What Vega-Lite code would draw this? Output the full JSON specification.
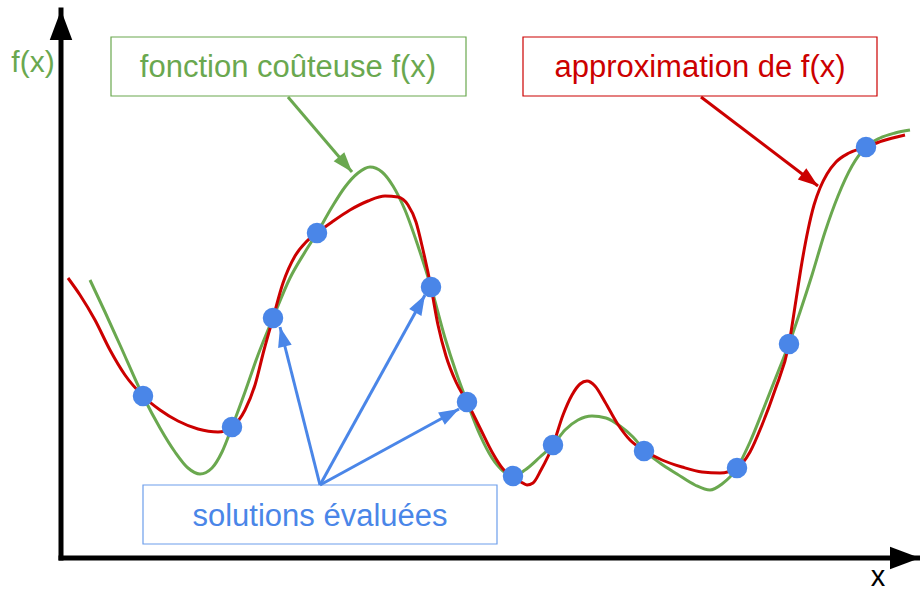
{
  "$schema": "https://vega.github.io/schema/vega-lite/v6.json",
  "width": 920,
  "height": 592,
  "padding": 0,
  "autosize": {"type": "none"},
  "background": "white",
  "config": {"view": {"stroke": null}},
  "layer": [
    {
      "data": {"values": [
        {"x": 90, "y": 280}, {"x": 105, "y": 312}, {"x": 120, "y": 345}, {"x": 143, "y": 396}, {"x": 160, "y": 428},
        {"x": 175, "y": 452}, {"x": 188, "y": 468}, {"x": 200, "y": 474}, {"x": 212, "y": 468}, {"x": 222, "y": 452},
        {"x": 232, "y": 427}, {"x": 245, "y": 392}, {"x": 258, "y": 355}, {"x": 273, "y": 318}, {"x": 290, "y": 278},
        {"x": 305, "y": 252}, {"x": 317, "y": 233}, {"x": 332, "y": 207}, {"x": 345, "y": 187}, {"x": 358, "y": 173},
        {"x": 370, "y": 167}, {"x": 382, "y": 172}, {"x": 393, "y": 186}, {"x": 405, "y": 210}, {"x": 418, "y": 246},
        {"x": 431, "y": 287}, {"x": 445, "y": 338}, {"x": 456, "y": 372}, {"x": 467, "y": 402}, {"x": 480, "y": 435},
        {"x": 492, "y": 458}, {"x": 503, "y": 471}, {"x": 513, "y": 476}, {"x": 525, "y": 470}, {"x": 540, "y": 457},
        {"x": 553, "y": 445}, {"x": 565, "y": 430}, {"x": 578, "y": 420}, {"x": 592, "y": 416}, {"x": 606, "y": 418},
        {"x": 620, "y": 426}, {"x": 633, "y": 437}, {"x": 645, "y": 451}, {"x": 660, "y": 463}, {"x": 677, "y": 474},
        {"x": 695, "y": 485}, {"x": 710, "y": 490}, {"x": 722, "y": 484}, {"x": 737, "y": 468}, {"x": 750, "y": 442},
        {"x": 765, "y": 405}, {"x": 778, "y": 372}, {"x": 789, "y": 344}, {"x": 800, "y": 312}, {"x": 812, "y": 275},
        {"x": 825, "y": 232}, {"x": 838, "y": 196}, {"x": 852, "y": 166}, {"x": 866, "y": 147}, {"x": 880, "y": 138},
        {"x": 895, "y": 133}, {"x": 910, "y": 130}
      ]},
      "mark": {"type": "line", "color": "#6aa84f", "strokeWidth": 3, "interpolate": "monotone"},
      "encoding": {
        "x": {"field": "x", "type": "quantitative", "scale": {"domain": [0, 920], "nice": false, "zero": false}, "axis": null},
        "y": {"field": "y", "type": "quantitative", "scale": {"domain": [0, 592], "nice": false, "zero": false, "reverse": true}, "axis": null}
      }
    },
    {
      "data": {"values": [
        {"x": 68, "y": 278}, {"x": 80, "y": 295}, {"x": 95, "y": 320}, {"x": 110, "y": 350}, {"x": 125, "y": 375},
        {"x": 143, "y": 396}, {"x": 160, "y": 410}, {"x": 178, "y": 421}, {"x": 198, "y": 429}, {"x": 218, "y": 432},
        {"x": 232, "y": 427}, {"x": 245, "y": 410}, {"x": 255, "y": 385}, {"x": 264, "y": 350}, {"x": 273, "y": 318},
        {"x": 283, "y": 283}, {"x": 295, "y": 256}, {"x": 306, "y": 242}, {"x": 317, "y": 233}, {"x": 332, "y": 222},
        {"x": 350, "y": 210}, {"x": 368, "y": 201}, {"x": 385, "y": 196}, {"x": 398, "y": 197}, {"x": 408, "y": 205},
        {"x": 416, "y": 222}, {"x": 423, "y": 250}, {"x": 431, "y": 287}, {"x": 438, "y": 325}, {"x": 446, "y": 356},
        {"x": 456, "y": 382}, {"x": 467, "y": 402}, {"x": 480, "y": 428}, {"x": 492, "y": 452}, {"x": 503, "y": 469},
        {"x": 513, "y": 477}, {"x": 521, "y": 482}, {"x": 527, "y": 485}, {"x": 533, "y": 483}, {"x": 541, "y": 470},
        {"x": 553, "y": 445}, {"x": 563, "y": 415}, {"x": 572, "y": 395}, {"x": 580, "y": 384}, {"x": 587, "y": 381},
        {"x": 595, "y": 386}, {"x": 605, "y": 402}, {"x": 617, "y": 423}, {"x": 630, "y": 440}, {"x": 645, "y": 451},
        {"x": 662, "y": 460}, {"x": 682, "y": 467}, {"x": 702, "y": 472}, {"x": 720, "y": 473}, {"x": 737, "y": 468},
        {"x": 750, "y": 452}, {"x": 762, "y": 425}, {"x": 775, "y": 390}, {"x": 789, "y": 344}, {"x": 796, "y": 300},
        {"x": 802, "y": 262}, {"x": 808, "y": 230}, {"x": 814, "y": 205}, {"x": 820, "y": 188}, {"x": 827, "y": 174},
        {"x": 836, "y": 162}, {"x": 849, "y": 153}, {"x": 866, "y": 147}, {"x": 882, "y": 141}, {"x": 905, "y": 135}
      ]},
      "mark": {"type": "line", "color": "#cc0000", "strokeWidth": 3, "interpolate": "monotone"},
      "encoding": {
        "x": {"field": "x", "type": "quantitative", "scale": {"domain": [0, 920], "nice": false, "zero": false}, "axis": null},
        "y": {"field": "y", "type": "quantitative", "scale": {"domain": [0, 592], "nice": false, "zero": false, "reverse": true}, "axis": null}
      }
    },
    {
      "data": {"values": [
        {"x": 143, "y": 396}, {"x": 232, "y": 427}, {"x": 273, "y": 318}, {"x": 317, "y": 233},
        {"x": 431, "y": 287}, {"x": 467, "y": 402}, {"x": 513, "y": 476}, {"x": 553, "y": 445},
        {"x": 644, "y": 451}, {"x": 737, "y": 468}, {"x": 789, "y": 344}, {"x": 866, "y": 147}
      ]},
      "mark": {"type": "point", "shape": "circle", "filled": true, "opacity": 1, "color": "#4a86e8", "size": 420},
      "encoding": {
        "x": {"field": "x", "type": "quantitative", "scale": {"domain": [0, 920], "nice": false, "zero": false}, "axis": null},
        "y": {"field": "y", "type": "quantitative", "scale": {"domain": [0, 592], "nice": false, "zero": false, "reverse": true}, "axis": null}
      }
    },
    {
      "data": {"values": [
        {"x": 61, "y": 558, "x2": 61, "y2": 10},
        {"x": 61, "y": 558, "x2": 920, "y2": 558}
      ]},
      "transform": [{"calculate": "atan2(datum.x2 - datum.x, datum.y - datum.y2) * 180 / PI", "as": "angle"}],
      "layer": [
        {
          "mark": {"type": "rule", "color": "black", "strokeWidth": 5, "strokeCap": "square"},
          "encoding": {
            "x": {"field": "x", "type": "quantitative", "scale": {"domain": [0, 920], "nice": false, "zero": false}, "axis": null},
            "y": {"field": "y", "type": "quantitative", "scale": {"domain": [0, 592], "nice": false, "zero": false, "reverse": true}, "axis": null},
            "x2": {"field": "x2"},
            "y2": {"field": "y2"}
          }
        },
        {
          "mark": {"type": "point", "shape": "M0,0L0.75,2L-0.75,2Z", "filled": true, "opacity": 1, "color": "black", "size": 900},
          "encoding": {
            "x": {"field": "x2", "type": "quantitative", "scale": {"domain": [0, 920], "nice": false, "zero": false}, "axis": null},
            "y": {"field": "y2", "type": "quantitative", "scale": {"domain": [0, 592], "nice": false, "zero": false, "reverse": true}, "axis": null},
            "angle": {"field": "angle", "type": "quantitative", "scale": null}
          }
        }
      ]
    },
    {
      "data": {"values": [
        {"x": 111, "y": 37, "x2": 466, "y2": 96, "box": "green"}
      ]},
      "mark": {"type": "rect", "fill": "white", "stroke": "#6aa84f", "strokeWidth": 1.2},
      "encoding": {
        "x": {"field": "x", "type": "quantitative", "scale": {"domain": [0, 920], "nice": false, "zero": false}, "axis": null},
        "y": {"field": "y", "type": "quantitative", "scale": {"domain": [0, 592], "nice": false, "zero": false, "reverse": true}, "axis": null},
        "x2": {"field": "x2"},
        "y2": {"field": "y2"}
      }
    },
    {
      "data": {"values": [
        {"x": 523, "y": 37, "x2": 877, "y2": 96, "box": "red"}
      ]},
      "mark": {"type": "rect", "fill": "white", "stroke": "#cc0000", "strokeWidth": 1.2},
      "encoding": {
        "x": {"field": "x", "type": "quantitative", "scale": {"domain": [0, 920], "nice": false, "zero": false}, "axis": null},
        "y": {"field": "y", "type": "quantitative", "scale": {"domain": [0, 592], "nice": false, "zero": false, "reverse": true}, "axis": null},
        "x2": {"field": "x2"},
        "y2": {"field": "y2"}
      }
    },
    {
      "data": {"values": [
        {"x": 143, "y": 485, "x2": 497, "y2": 544, "box": "blue"}
      ]},
      "mark": {"type": "rect", "fill": "white", "stroke": "#6d9eeb", "strokeWidth": 1.2},
      "encoding": {
        "x": {"field": "x", "type": "quantitative", "scale": {"domain": [0, 920], "nice": false, "zero": false}, "axis": null},
        "y": {"field": "y", "type": "quantitative", "scale": {"domain": [0, 592], "nice": false, "zero": false, "reverse": true}, "axis": null},
        "x2": {"field": "x2"},
        "y2": {"field": "y2"}
      }
    },
    {
      "data": {"values": [
        {"x": 288, "y": 97, "x2": 352, "y2": 172}
      ]},
      "transform": [{"calculate": "atan2(datum.x2 - datum.x, datum.y - datum.y2) * 180 / PI", "as": "angle"}],
      "layer": [
        {
          "mark": {"type": "rule", "color": "#6aa84f", "strokeWidth": 3},
          "encoding": {
            "x": {"field": "x", "type": "quantitative", "scale": {"domain": [0, 920], "nice": false, "zero": false}, "axis": null},
            "y": {"field": "y", "type": "quantitative", "scale": {"domain": [0, 592], "nice": false, "zero": false, "reverse": true}, "axis": null},
            "x2": {"field": "x2"},
            "y2": {"field": "y2"}
          }
        },
        {
          "mark": {"type": "point", "shape": "M0,0L0.7,2L-0.7,2Z", "filled": true, "opacity": 1, "color": "#6aa84f", "size": 400},
          "encoding": {
            "x": {"field": "x2", "type": "quantitative", "scale": {"domain": [0, 920], "nice": false, "zero": false}, "axis": null},
            "y": {"field": "y2", "type": "quantitative", "scale": {"domain": [0, 592], "nice": false, "zero": false, "reverse": true}, "axis": null},
            "angle": {"field": "angle", "type": "quantitative", "scale": null}
          }
        }
      ]
    },
    {
      "data": {"values": [
        {"x": 701, "y": 97, "x2": 818, "y2": 186}
      ]},
      "transform": [{"calculate": "atan2(datum.x2 - datum.x, datum.y - datum.y2) * 180 / PI", "as": "angle"}],
      "layer": [
        {
          "mark": {"type": "rule", "color": "#cc0000", "strokeWidth": 3},
          "encoding": {
            "x": {"field": "x", "type": "quantitative", "scale": {"domain": [0, 920], "nice": false, "zero": false}, "axis": null},
            "y": {"field": "y", "type": "quantitative", "scale": {"domain": [0, 592], "nice": false, "zero": false, "reverse": true}, "axis": null},
            "x2": {"field": "x2"},
            "y2": {"field": "y2"}
          }
        },
        {
          "mark": {"type": "point", "shape": "M0,0L0.7,2L-0.7,2Z", "filled": true, "opacity": 1, "color": "#cc0000", "size": 400},
          "encoding": {
            "x": {"field": "x2", "type": "quantitative", "scale": {"domain": [0, 920], "nice": false, "zero": false}, "axis": null},
            "y": {"field": "y2", "type": "quantitative", "scale": {"domain": [0, 592], "nice": false, "zero": false, "reverse": true}, "axis": null},
            "angle": {"field": "angle", "type": "quantitative", "scale": null}
          }
        }
      ]
    },
    {
      "data": {"values": [
        {"x": 320, "y": 485, "x2": 280, "y2": 327},
        {"x": 320, "y": 485, "x2": 425, "y2": 295},
        {"x": 320, "y": 485, "x2": 459, "y2": 409}
      ]},
      "transform": [{"calculate": "atan2(datum.x2 - datum.x, datum.y - datum.y2) * 180 / PI", "as": "angle"}],
      "layer": [
        {
          "mark": {"type": "rule", "color": "#4a86e8", "strokeWidth": 3},
          "encoding": {
            "x": {"field": "x", "type": "quantitative", "scale": {"domain": [0, 920], "nice": false, "zero": false}, "axis": null},
            "y": {"field": "y", "type": "quantitative", "scale": {"domain": [0, 592], "nice": false, "zero": false, "reverse": true}, "axis": null},
            "x2": {"field": "x2"},
            "y2": {"field": "y2"}
          }
        },
        {
          "mark": {"type": "point", "shape": "M0,0L0.7,2L-0.7,2Z", "filled": true, "opacity": 1, "color": "#4a86e8", "size": 400},
          "encoding": {
            "x": {"field": "x2", "type": "quantitative", "scale": {"domain": [0, 920], "nice": false, "zero": false}, "axis": null},
            "y": {"field": "y2", "type": "quantitative", "scale": {"domain": [0, 592], "nice": false, "zero": false, "reverse": true}, "axis": null},
            "angle": {"field": "angle", "type": "quantitative", "scale": null}
          }
        }
      ]
    },
    {
      "data": {"values": [
        {"x": 288, "y": 77, "label": "fonction coûteuse f(x)"}
      ]},
      "mark": {"type": "text", "color": "#6aa84f", "font": "Liberation Sans", "fontSize": 31, "align": "center", "baseline": "alphabetic"},
      "encoding": {
        "x": {"field": "x", "type": "quantitative", "scale": {"domain": [0, 920], "nice": false, "zero": false}, "axis": null},
        "y": {"field": "y", "type": "quantitative", "scale": {"domain": [0, 592], "nice": false, "zero": false, "reverse": true}, "axis": null},
        "text": {"field": "label"}
      }
    },
    {
      "data": {"values": [
        {"x": 33, "y": 72, "label": "f(x)"}
      ]},
      "mark": {"type": "text", "color": "#6aa84f", "font": "Liberation Sans", "fontSize": 30, "align": "center", "baseline": "alphabetic"},
      "encoding": {
        "x": {"field": "x", "type": "quantitative", "scale": {"domain": [0, 920], "nice": false, "zero": false}, "axis": null},
        "y": {"field": "y", "type": "quantitative", "scale": {"domain": [0, 592], "nice": false, "zero": false, "reverse": true}, "axis": null},
        "text": {"field": "label"}
      }
    },
    {
      "data": {"values": [
        {"x": 700, "y": 77, "label": "approximation de f(x)"}
      ]},
      "mark": {"type": "text", "color": "#cc0000", "font": "Liberation Sans", "fontSize": 31, "align": "center", "baseline": "alphabetic"},
      "encoding": {
        "x": {"field": "x", "type": "quantitative", "scale": {"domain": [0, 920], "nice": false, "zero": false}, "axis": null},
        "y": {"field": "y", "type": "quantitative", "scale": {"domain": [0, 592], "nice": false, "zero": false, "reverse": true}, "axis": null},
        "text": {"field": "label"}
      }
    },
    {
      "data": {"values": [
        {"x": 320, "y": 526, "label": "solutions évaluées"}
      ]},
      "mark": {"type": "text", "color": "#4a86e8", "font": "Liberation Sans", "fontSize": 31, "align": "center", "baseline": "alphabetic"},
      "encoding": {
        "x": {"field": "x", "type": "quantitative", "scale": {"domain": [0, 920], "nice": false, "zero": false}, "axis": null},
        "y": {"field": "y", "type": "quantitative", "scale": {"domain": [0, 592], "nice": false, "zero": false, "reverse": true}, "axis": null},
        "text": {"field": "label"}
      }
    },
    {
      "data": {"values": [
        {"x": 878, "y": 592, "label": "x"}
      ]},
      "mark": {"type": "text", "color": "black", "font": "Liberation Sans", "fontSize": 29, "align": "center", "baseline": "bottom"},
      "encoding": {
        "x": {"field": "x", "type": "quantitative", "scale": {"domain": [0, 920], "nice": false, "zero": false}, "axis": null},
        "y": {"field": "y", "type": "quantitative", "scale": {"domain": [0, 592], "nice": false, "zero": false, "reverse": true}, "axis": null},
        "text": {"field": "label"}
      }
    }
  ]
}
